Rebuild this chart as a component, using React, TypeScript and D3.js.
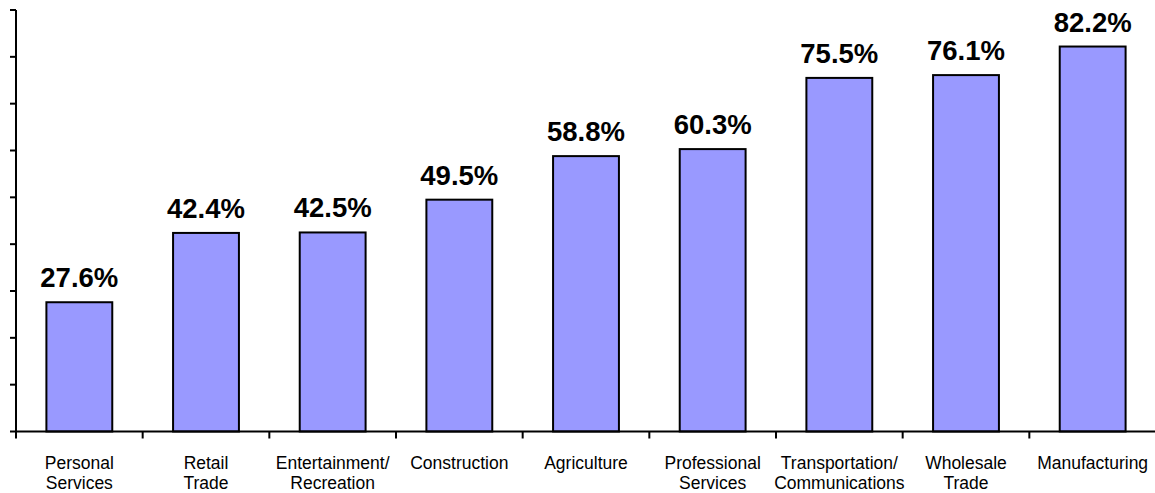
import React from "react";
import * as d3 from "d3";

const categories: string[][] = [
  ["Personal", "Services"],
  ["Retail", "Trade"],
  ["Entertainment/", "Recreation"],
  ["Construction"],
  ["Agriculture"],
  ["Professional", "Services"],
  ["Transportation/", "Communications"],
  ["Wholesale", "Trade"],
  ["Manufacturing"],
];
const values: number[] = [27.6, 42.4, 42.5, 49.5, 58.8, 60.3, 75.5, 76.1, 82.2];
const yTicks: number[] = [0, 10, 20, 30, 40, 50, 60, 70, 80, 90];

const W = 1155;
const H = 493;
const FONT = "'Liberation Sans', Arial, Helvetica, sans-serif";

export default function App() {
  const keys = categories.map((c) => c.join(" "));
  const x = d3.scaleBand<string>().domain(keys).range([16, 1156]).paddingInner(0.48).paddingOuter(0.24);
  const xOuter = d3.scaleBand<string>().domain(keys).range([16, 1156]);
  const y = d3.scaleLinear().domain([0, 90]).range([431.5, 10]);

  return (
    <svg
      width={W}
      height={H}
      style={{ position: "fixed", left: 0, top: 0, display: "block", background: "#fff" }}
    >
      {values.map((v, i) => {
        const k = keys[i];
        const bx = x(k)!;
        const bw = x.bandwidth();
        return (
          <g key={k}>
            <rect
              x={bx}
              y={y(v)}
              width={bw}
              height={y(0) - y(v)}
              fill="#9999FF"
              stroke="#000"
              strokeWidth={2}
            />
            <text
              x={bx + bw / 2}
              y={y(v) - 15}
              textAnchor="middle"
              fontFamily={FONT}
              fontWeight="bold"
              fontSize={27.5}
              fill="#000"
            >
              {v.toFixed(1)}%
            </text>
          </g>
        );
      })}
      {/* y axis */}
      <line x1={16} x2={16} y1={y(90)} y2={y(0)} stroke="#000" strokeWidth={2} />
      {yTicks.map((t) => (
        <line key={t} x1={10} x2={16} y1={y(t)} y2={y(t)} stroke="#000" strokeWidth={2} />
      ))}
      {/* x axis */}
      <line x1={15} x2={W} y1={y(0)} y2={y(0)} stroke="#000" strokeWidth={2} />
      {keys.map((k) => (
        <line
          key={"t" + k}
          x1={xOuter(k)!}
          x2={xOuter(k)!}
          y1={y(0)}
          y2={y(0) + 7}
          stroke="#000"
          strokeWidth={2}
        />
      ))}
      {categories.map((lines, i) => {
        const k = keys[i];
        const cx = xOuter(k)! + xOuter.bandwidth() / 2;
        return (
          <text
            key={"l" + k}
            x={cx}
            y={469}
            textAnchor="middle"
            fontFamily={FONT}
            fontSize={17.5}
            fill="#000"
          >
            {lines.map((ln, j) => (
              <tspan key={j} x={cx} dy={j === 0 ? 0 : 20}>
                {ln}
              </tspan>
            ))}
          </text>
        );
      })}
    </svg>
  );
}
